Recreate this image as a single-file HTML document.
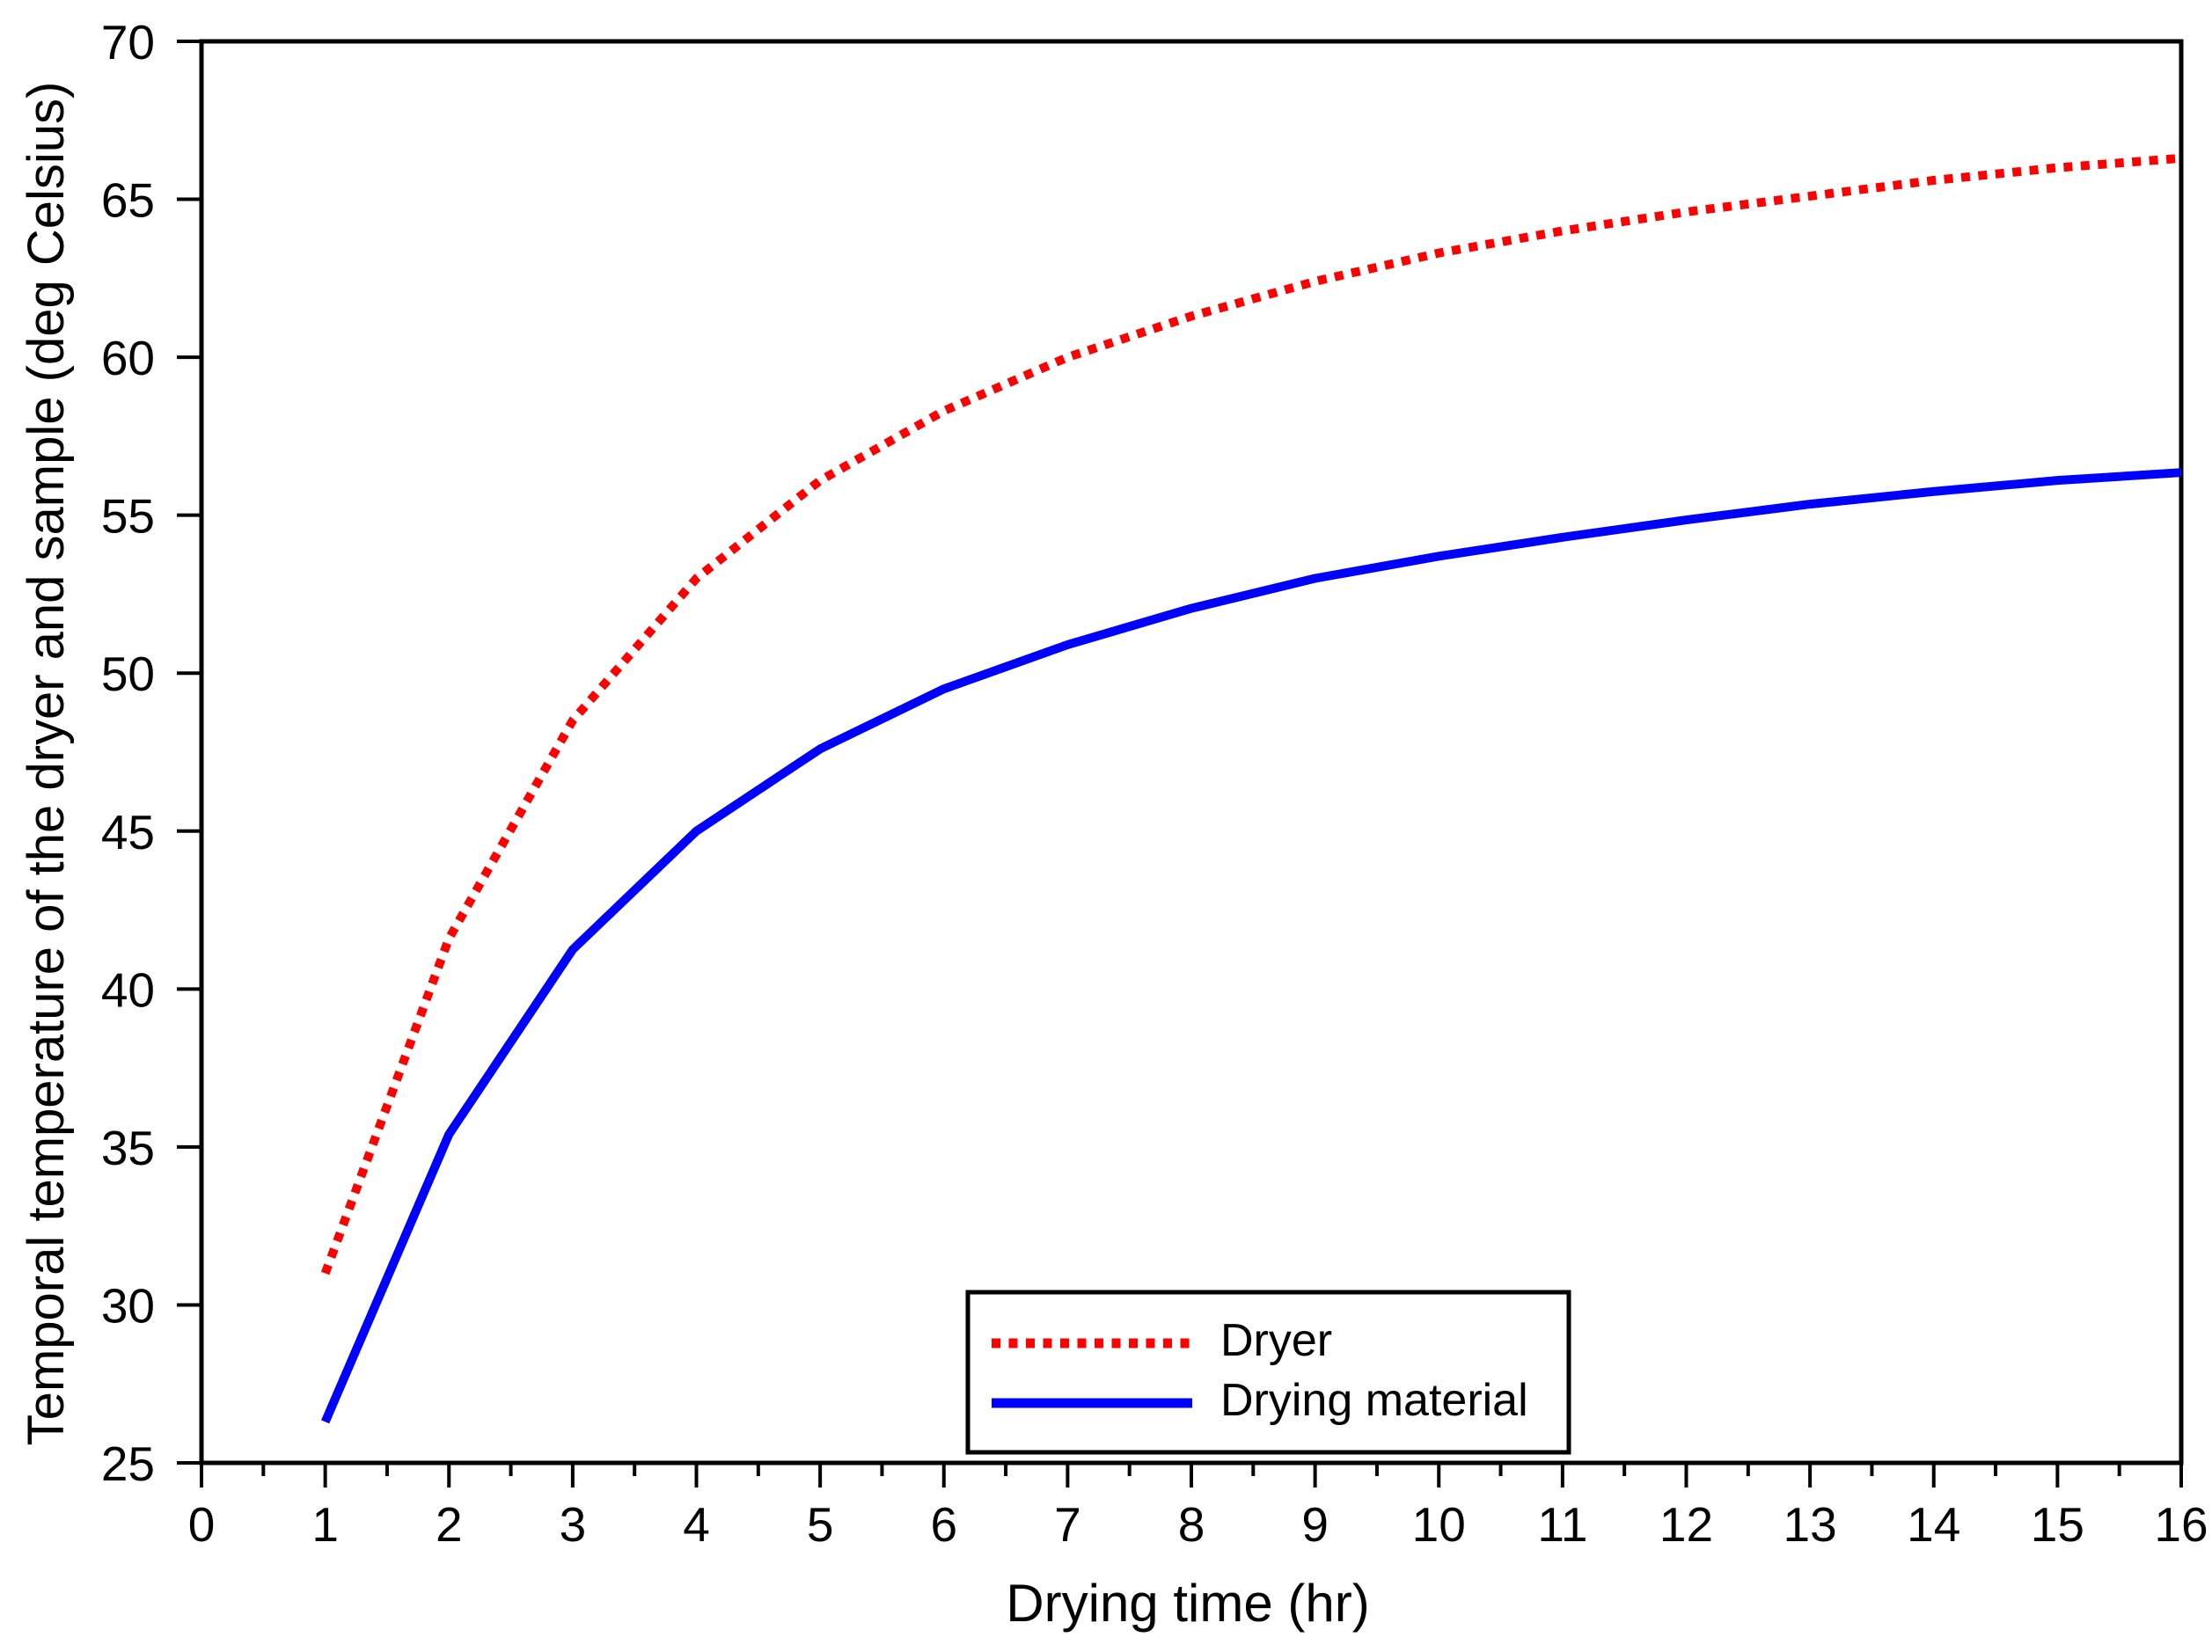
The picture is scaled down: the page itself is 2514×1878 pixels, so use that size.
<!DOCTYPE html>
<html><head><meta charset="utf-8"><style>
html,body{margin:0;padding:0;background:#fff;}
svg{display:block;font-family:"Liberation Sans",Arial,sans-serif;}
</style></head><body>
<svg id="chart" width="2514" height="1878" viewBox="0 0 2514 1878" xmlns="http://www.w3.org/2000/svg">
<g id="axes"></g>
<g id="series"></g>
<g>
<rect x="1100" y="1469" width="683" height="182" fill="#fff" stroke="#000" stroke-width="5"/>
<line x1="1127" y1="1527" x2="1355" y2="1527" stroke="#ff0000" stroke-width="11" stroke-dasharray="10 9.5"/>
<text x="1387" y="1541" font-size="52">Dryer</text>
<line x1="1127" y1="1595" x2="1355" y2="1595" stroke="#0000ff" stroke-width="11"/>
<text x="1387" y="1609" font-size="52">Drying material</text>
</g>
<text x="1350" y="1843" font-size="60" text-anchor="middle">Drying time (hr)</text>
<text transform="translate(72,868) rotate(-90)" font-size="58" text-anchor="middle">Temporal temperature of the dryer and sample (deg Celsius)</text>
</svg>
<script>
const hours = [1,2,3,4,5,6,7,8,9,10,11,12,13,14,15,16];
const dryer = [31.0,41.6,48.5,53.0,56.1,58.3,60.0,61.3,62.4,63.3,64.0,64.6,65.1,65.6,66.0,66.3];
const material = [26.3,35.4,41.25,45.0,47.6,49.5,50.9,52.05,53.0,53.7,54.3,54.85,55.35,55.75,56.1,56.35];
const xTicks = [0,1,2,3,4,5,6,7,8,9,10,11,12,13,14,15,16];
const yTicks = [25,30,35,40,45,50,55,60,65,70];

const NS = "http://www.w3.org/2000/svg";
const X0=229, X1=2479, Y0=1663, Y1=47;
const xMin=0,xMax=16,yMin=25,yMax=70;
const sx = v => X0 + (v-xMin)/(xMax-xMin)*(X1-X0);
const sy = v => Y0 - (v-yMin)/(yMax-yMin)*(Y0-Y1);
function mk(tag, attrs){const e=document.createElementNS(NS,tag);for(const k in attrs)e.setAttribute(k,attrs[k]);return e;}
const axes=document.getElementById('axes'), series=document.getElementById('series');

const frame=mk('rect',{x:X0,y:Y1,width:X1-X0,height:Y0-Y1,fill:'none',stroke:'#000','stroke-width':5});


axes.appendChild(frame);

xTicks.forEach(t=>{
  const x=sx(t);
  const l=mk('line',{x1:x,y1:Y0,x2:x,y2:Y0+28,stroke:'#000','stroke-width':4});
  
  
  axes.appendChild(l);
  if(t<xMax){
    const m=mk('line',{x1:sx(t+0.5),y1:Y0,x2:sx(t+0.5),y2:Y0+15,stroke:'#000','stroke-width':4});
    
    
    axes.appendChild(m);
  }
  const tx=mk('text',{x:x,y:1752,'font-size':55,'text-anchor':'middle'});
  tx.textContent=t;
  
  
  axes.appendChild(tx);
});
yTicks.forEach(t=>{
  const y=sy(t);
  const l=mk('line',{x1:X0-28,y1:y,x2:X0,y2:y,stroke:'#000','stroke-width':4});
  
  
  axes.appendChild(l);
  const tx=mk('text',{x:176,y:y+20,'font-size':55,'text-anchor':'end'});
  tx.textContent=t;
  
  
  axes.appendChild(tx);
});

function pts(arr){return hours.map((h,i)=>sx(h)+','+sy(arr[i])).join(' ');}
const pm=mk('polyline',{points:pts(material),fill:'none',stroke:'#0000ff','stroke-width':10,'stroke-linejoin':'round'});


series.appendChild(pm);
const pd=mk('polyline',{points:pts(dryer),fill:'none',stroke:'#ff0000','stroke-width':10,'stroke-dasharray':'10 9.5'});


series.appendChild(pd);
</script>
</body></html>
